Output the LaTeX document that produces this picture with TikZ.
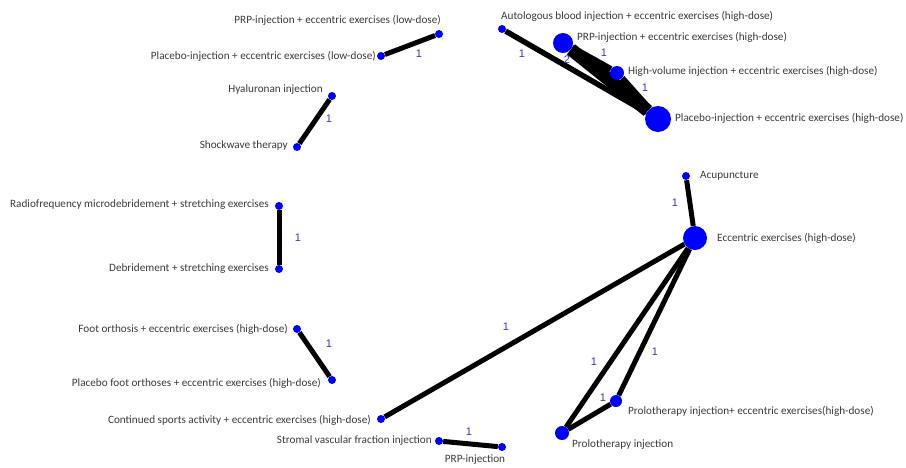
\documentclass[tikz,border=0pt]{standalone}
\usepackage{fontspec}
\setmainfont{Carlito}
\newfontfamily\numfont{Liberation Sans}
\usetikzlibrary{backgrounds}
\definecolor{dotblue}{HTML}{0000FF}
\definecolor{labelgray}{HTML}{3A3A3A}
\definecolor{numblue}{HTML}{3636C8}
\tikzset{
  dot/.style={circle, fill=dotblue, inner sep=0pt, minimum size=#1},
  dot/.default=8pt,
  lbl/.style={text=labelgray, font=\fontsize{11.2}{13}\selectfont, inner sep=0pt},
  num/.style={text=numblue, font=\numfont\fontsize{11}{12}\selectfont, inner sep=0pt},
  link/.style={line width=#1, draw=black},
  link/.default=5pt
}
\begin{document}
\begin{tikzpicture}[x=1pt, y=-1pt]
\useasboundingbox (0,0) rectangle (906,467);

% treatments (network nodes)
\node[dot] (prplow) at (439,34) {};
\node[dot] (plalow) at (381,56) {};
\node[dot] (hyal) at (332,96) {};
\node[dot] (shock) at (297,147) {};
\node[dot] (radio) at (279,206) {};
\node[dot] (debr) at (279,269) {};
\node[dot] (foot) at (297,329) {};
\node[dot] (plafoot) at (332,380) {};
\node[dot] (cont) at (381,419) {};
\node[dot] (svf) at (439,441) {};
\node[dot] (prp) at (502,447) {};
\node[dot=14pt] (prolo) at (562,433) {};
\node[dot=12pt] (proloecc) at (616,401) {};
\node[dot=24pt] (ecc) at (695,238) {};
\node[dot] (acu) at (686,176) {};
\node[dot] (auto) at (502,29) {};
\node[dot=20pt] (prphigh) at (563,43) {};
\node[dot=14pt] (hvol) at (617,73) {};
\node[dot=26pt] (plahigh) at (658,119) {};

% comparisons, drawn beneath the dots
\begin{pgfonlayer}{background}
  \draw[link] (prplow) -- (plalow);
  \draw[link] (hyal) -- (shock);
  \draw[link] (radio) -- (debr);
  \draw[link] (foot) -- (plafoot);
  \draw[link] (svf) -- (prp);
  \draw[link] (cont) -- (ecc);
  \draw[link] (acu) -- (ecc);
  \draw[link] (prolo) -- (ecc);
  \draw[link] (proloecc) -- (ecc);
  \draw[link] (prolo) -- (proloecc);
  \draw[link=5.5pt] (auto) -- (plahigh);
  \draw[link=13pt] (prphigh) -- (plahigh);
  \draw[link=7pt] (prphigh) -- (hvol);
  \draw[link=7pt] (hvol) -- (plahigh);
\end{pgfonlayer}

% treatment names
\node[lbl, anchor=east] (tprplow) at (441,20) {PRP-injection + eccentric exercises (low-dose)};
\node[lbl, anchor=east] (tplalow) at (376,56) {Placebo-injection + eccentric exercises (low-dose)};
\node[lbl, anchor=east] (thyal) at (323,90) {Hyaluronan injection};
\node[lbl, anchor=east] (tshock) at (288,146) {Shockwave therapy};
\node[lbl, anchor=east] (tradio) at (269,205) {Radiofrequency microdebridement + stretching exercises};
\node[lbl, anchor=east] (tdebr) at (269,269) {Debridement + stretching exercises};
\node[lbl, anchor=east] (tfoot) at (288,329) {Foot orthosis + eccentric exercises (high-dose)};
\node[lbl, anchor=east] (tplafoot) at (321,383) {Placebo foot orthoses + eccentric exercises (high-dose)};
\node[lbl, anchor=east] (tcont) at (371,420) {Continued sports activity + eccentric exercises (high-dose)};
\node[lbl, anchor=east] (tsvf) at (432,441) {Stromal vascular fraction injection};
\node[lbl] (tprp) at (475,460) {PRP-injection};
\node[lbl, anchor=west] (tprolo) at (572,445) {Prolotherapy injection};
\node[lbl, anchor=west] (tproloecc) at (628,411) {Prolotherapy injection+ eccentric exercises(high-dose)};
\node[lbl, anchor=west] (tecc) at (717,238) {Eccentric exercises (high-dose)};
\node[lbl, anchor=west] (tacu) at (700,176) {Acupuncture};
\node[lbl, anchor=west] (tauto) at (501,16) {Autologous blood injection + eccentric exercises (high-dose)};
\node[lbl, anchor=west] (tprphigh) at (577,37) {PRP-injection + eccentric exercises (high-dose)};
\node[lbl, anchor=west] (thvol) at (628,71) {High-volume injection + eccentric exercises (high-dose)};
\node[lbl, anchor=west] (tplahigh) at (675,118) {Placebo-injection + eccentric exercises (high-dose)};

% numbers of studies per comparison
\node[num] (n1) at (419,54) {1};
\node[num] (n2) at (329,119) {1};
\node[num] (n3) at (298,238) {1};
\node[num] (n4) at (329,344) {1};
\node[num] (n5) at (469,432) {1};
\node[num] (n6) at (506,327) {1};
\node[num] (n7) at (675,203) {1};
\node[num] (n8) at (594,362) {1};
\node[num] (n9) at (655,352) {1};
\node[num] (n10) at (603,398) {1};
\node[num] (n11) at (522,54) {1};
\node[num] (n12) at (567,60) {2};
\node[num] (n13) at (604,53) {1};
\node[num] (n14) at (645,88) {1};
\end{tikzpicture}
\end{document}
